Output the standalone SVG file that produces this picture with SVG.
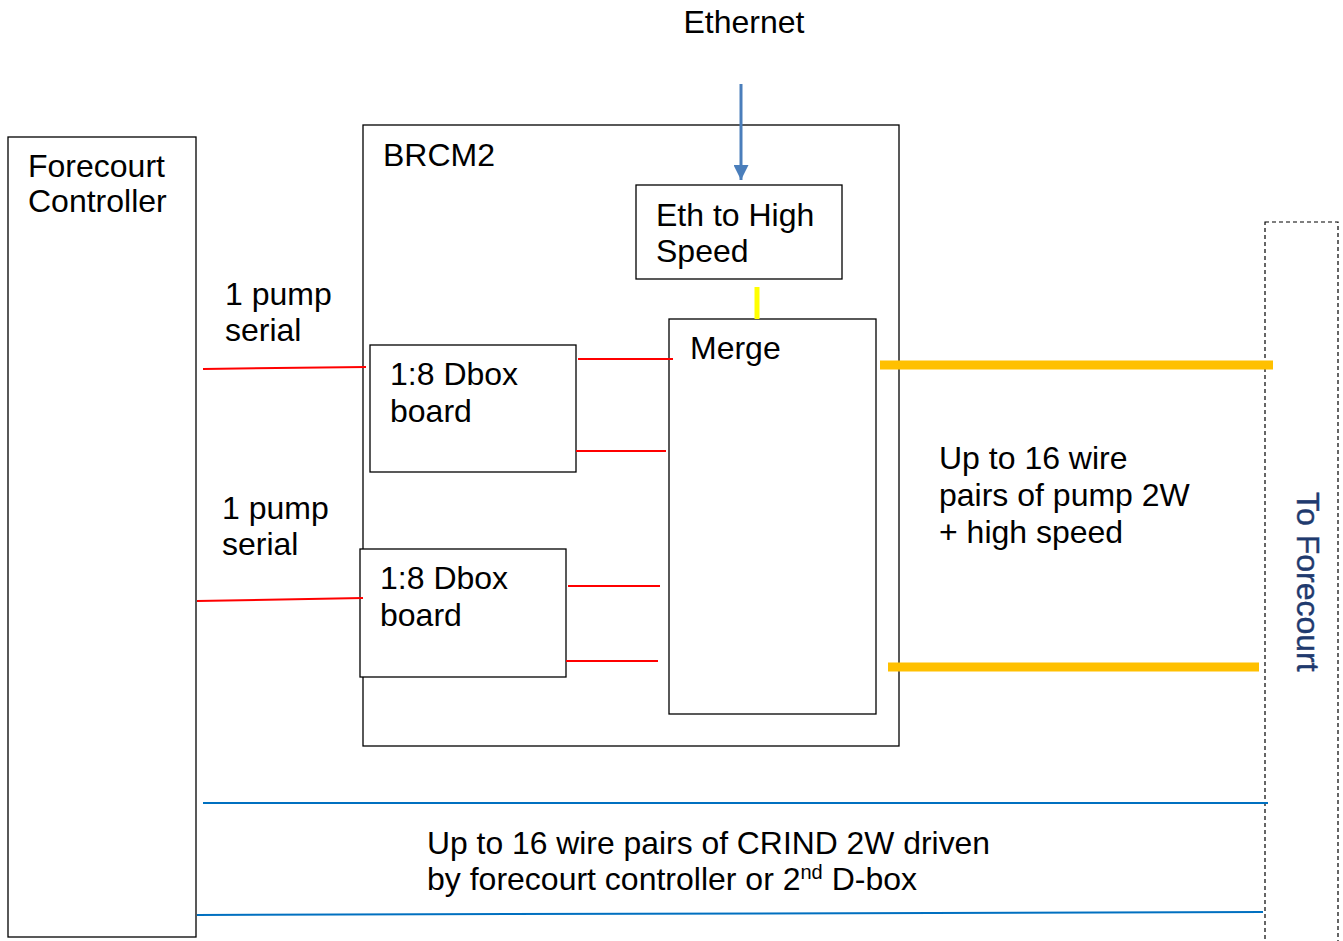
<svg xmlns="http://www.w3.org/2000/svg" width="1343" height="941" viewBox="0 0 1343 941">
<style>
.box{fill:#fff;stroke:#000;stroke-width:1.3}
.t{font-family:"Liberation Sans",Arial,sans-serif;font-size:32px;fill:#000}
.red{stroke:#FF0000;stroke-width:2;fill:none}
.blue{stroke:#0070C0;stroke-width:2;fill:none}
.orange{stroke:#FFC000;stroke-width:9;fill:none}
</style>
<defs>
<marker id="ah" viewBox="0 0 10 10" refX="10" refY="5" markerWidth="5" markerHeight="5" orient="auto" markerUnits="strokeWidth">
<path d="M0,0 L10,5 L0,10 z" fill="#4A7EBB"/>
</marker>
</defs>
<rect width="1343" height="941" fill="#fff"/>
<text class="t" x="744" y="33" text-anchor="middle">Ethernet</text>
<g id="forecourt-controller">
<rect class="box" x="8" y="137" width="188" height="800"/>
<text class="t" x="28" y="177">Forecourt</text>
<text class="t" x="28" y="212">Controller</text>
</g>
<g id="brcm2">
<rect class="box" x="363" y="125" width="536" height="621"/>
<text class="t" x="383" y="166">BRCM2</text>
</g>
<g id="eth-to-high-speed">
<rect class="box" x="636" y="185" width="206" height="94"/>
<text class="t" x="656" y="226">Eth to High</text>
<text class="t" x="656" y="262">Speed</text>
</g>
<g id="merge">
<rect class="box" x="669" y="319" width="207" height="395"/>
<text class="t" x="690" y="359">Merge</text>
</g>
<g id="dbox1">
<rect class="box" x="370" y="345" width="206" height="127"/>
<text class="t" x="390" y="385">1:8 Dbox</text>
<text class="t" x="390" y="422">board</text>
</g>
<g id="dbox2">
<rect class="box" x="360" y="549" width="206" height="128"/>
<text class="t" x="380" y="589">1:8 Dbox</text>
<text class="t" x="380" y="626">board</text>
</g>
<g id="to-forecourt">
<rect x="1265" y="222" width="73" height="730" fill="none" stroke="#000" stroke-width="1.2" stroke-dasharray="4,3"/>
<text class="t" transform="translate(1297,492) rotate(90)" style="fill:#1F3A6E;stroke:#1F3A6E;stroke-width:0.4">To Forecourt</text>
</g>
<g id="connectors">
<line x1="741" y1="84" x2="741" y2="180" stroke="#4A7EBB" stroke-width="3" marker-end="url(#ah)"/>
<line x1="757" y1="287" x2="757" y2="319" stroke="#FFFF00" stroke-width="5"/>
<line class="orange" x1="880" y1="365" x2="1273" y2="365"/>
<line class="orange" x1="888" y1="667" x2="1259" y2="667"/>
<line class="red" x1="203" y1="369" x2="366" y2="367"/>
<line class="red" x1="578" y1="359" x2="673" y2="359"/>
<line class="red" x1="576" y1="451" x2="666" y2="451"/>
<line class="red" x1="197" y1="601" x2="363" y2="598"/>
<line class="red" x1="568" y1="586" x2="660" y2="586"/>
<line class="red" x1="566" y1="661" x2="658" y2="661"/>
<line class="blue" x1="203" y1="803" x2="1268" y2="803"/>
<line class="blue" x1="197" y1="915" x2="1263" y2="912"/>
</g>
<g id="labels">
<text class="t" x="225" y="305">1 pump</text>
<text class="t" x="225" y="341">serial</text>
<text class="t" x="222" y="519">1 pump</text>
<text class="t" x="222" y="555">serial</text>
<text class="t" x="939" y="469">Up to 16 wire</text>
<text class="t" x="939" y="506">pairs of pump 2W</text>
<text class="t" x="939" y="543">+ high speed</text>
<text class="t" x="427" y="854" textLength="563" lengthAdjust="spacingAndGlyphs">Up to 16 wire pairs of CRIND 2W driven</text>
<text class="t" x="427" y="890">by forecourt controller or 2<tspan font-size="20" dy="-11">nd</tspan><tspan dy="11"> D-box</tspan></text>
</g>
</svg>
